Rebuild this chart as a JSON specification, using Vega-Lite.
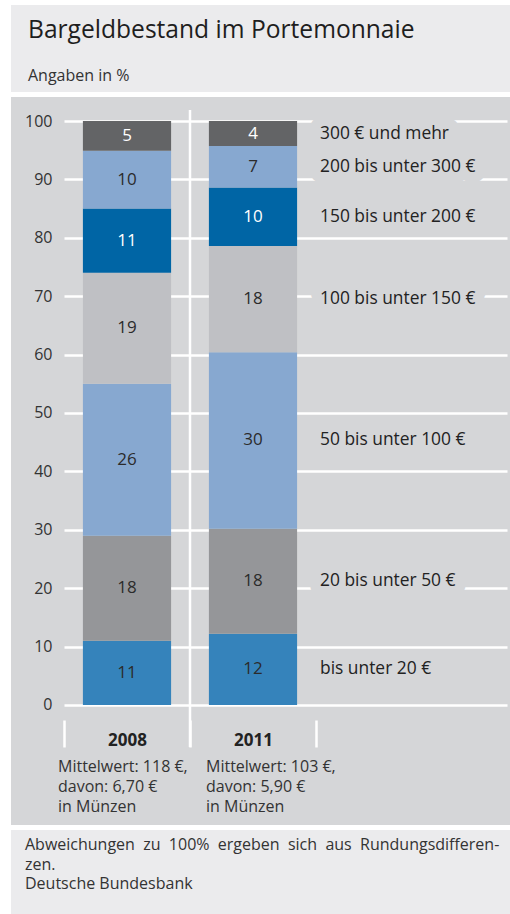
{
  "$schema": "https://vega.github.io/schema/vega-lite/v6.json",
  "background": "white",
  "padding": {"left": 11, "top": 5, "right": 0, "bottom": 0},
  "spacing": 5,
  "config": {
    "font": "Open Sans",
    "axisX": {"offset": -105, "tickBand": "extent", "tickSize": 27, "tickWidth": 2.5, "tickColor": "white", "domain": false, "grid": false, "labelFontSize": 17, "labelFontWeight": "bold", "labelColor": "#222222", "labelPadding": -7, "labelBaseline": "middle", "labelAngle": 0, "title": null}
  },
  "vconcat": [
    {
      "width": 499,
      "height": 87,
      "view": {"fill": "#ebebed", "stroke": null},
      "title": {"text": "Bargeldbestand im Portemonnaie", "subtitle": "Angaben in %", "anchor": "start", "frame": "group", "offset": -80, "dx": 17, "fontSize": 24.6, "fontWeight": "normal", "color": "#1e1e1e", "subtitleFontSize": 16, "subtitleColor": "#333333", "subtitlePadding": 24},
      "data": {"values": []},
      "mark": "text",
      "encoding": {}
    },
    {
      "width": 499,
      "height": 728,
      "view": {"fill": "#d5d6d8", "stroke": null},
      "data": {"values": [
        {"year": "2008", "cat": "bis unter 20 €", "order": 1, "value": 11.0},
        {"year": "2008", "cat": "20 bis unter 50 €", "order": 2, "value": 18.0},
        {"year": "2008", "cat": "50 bis unter 100 €", "order": 3, "value": 26.0},
        {"year": "2008", "cat": "100 bis unter 150 €", "order": 4, "value": 19.0},
        {"year": "2008", "cat": "150 bis unter 200 €", "order": 5, "value": 11.0},
        {"year": "2008", "cat": "200 bis unter 300 €", "order": 6, "value": 9.9},
        {"year": "2008", "cat": "300 € und mehr", "order": 7, "value": 5.1},
        {"year": "2011", "cat": "bis unter 20 €", "order": 1, "value": 12.2},
        {"year": "2011", "cat": "20 bis unter 50 €", "order": 2, "value": 18.0},
        {"year": "2011", "cat": "50 bis unter 100 €", "order": 3, "value": 30.2},
        {"year": "2011", "cat": "100 bis unter 150 €", "order": 4, "value": 18.2},
        {"year": "2011", "cat": "150 bis unter 200 €", "order": 5, "value": 10.0},
        {"year": "2011", "cat": "200 bis unter 300 €", "order": 6, "value": 7.1},
        {"year": "2011", "cat": "300 € und mehr", "order": 7, "value": 4.3}
      ]},
      "transform": [
        {"stack": "value", "groupby": ["year"], "sort": [{"field": "order", "order": "ascending"}], "as": ["y0", "y1"]},
        {"calculate": "(datum.y0 + datum.y1) / 2", "as": "mid"}
      ],
      "layer": [
        {
          "mark": {"type": "bar", "width": {"band": 0.7}},
          "encoding": {
            "x": {"field": "year", "type": "nominal", "title": null, "scale": {"domain": ["2008", "2011"], "range": [53, 305], "paddingInner": 0, "paddingOuter": 0}},
            "y": {"field": "y0", "type": "quantitative", "title": null, "scale": {"domain": [-20.55, 104.11], "nice": false, "zero": false},
              "axis": {"orient": "left", "values": [0, 10, 20, 30, 40, 50, 60, 70, 80, 90, 100], "offset": -53, "labelPadding": 12, "ticks": false, "domain": false, "grid": false, "labelFontSize": 16, "labelColor": "#333333", "title": null}},
            "y2": {"field": "y1"},
            "color": {"field": "cat", "type": "nominal", "legend": null,
              "scale": {"domain": ["bis unter 20 €", "20 bis unter 50 €", "50 bis unter 100 €", "100 bis unter 150 €", "150 bis unter 200 €", "200 bis unter 300 €", "300 € und mehr"],
                "range": ["#3583bb", "#959699", "#87a8d0", "#bfc0c4", "#0065a5", "#87a8d0", "#636466"]}}
          }
        },
        {
          "mark": {"type": "text", "fontSize": 17, "baseline": "middle", "align": "center"},
          "encoding": {
            "x": {"field": "year", "type": "nominal", "title": null},
            "y": {"field": "mid", "type": "quantitative", "title": null,
              "axis": {"orient": "right", "values": [0, 10, 20, 30, 40, 50, 60, 70, 80, 90, 100], "offset": -446, "tickSize": 443, "tickWidth": 2.5, "tickColor": "white", "labels": false, "domain": false, "grid": false, "title": null}},
            "text": {"field": "value", "type": "quantitative", "format": ".0f"},
            "color": {"condition": {"test": "datum.cat === '300 € und mehr' || datum.cat === '150 bis unter 200 €'", "value": "white"}, "value": "#2b2b2b"}
          }
        },
        {
          "transform": [{"filter": "datum.year === '2011'"}],
          "mark": {"type": "text", "fontSize": 17.4, "baseline": "middle", "align": "left", "dx": 4, "fill": "#d5d6d8", "stroke": "#d5d6d8", "strokeWidth": 21, "strokeJoin": "round"},
          "encoding": {
            "x": {"field": "year", "type": "nominal", "title": null, "bandPosition": 1},
            "y": {"field": "mid", "type": "quantitative", "axis": null},
            "text": {"field": "cat"}
          }
        },
        {
          "transform": [{"filter": "datum.year === '2011'"}],
          "mark": {"type": "text", "fontSize": 17.4, "baseline": "middle", "align": "left", "dx": 4, "color": "#222222"},
          "encoding": {
            "x": {"field": "year", "type": "nominal", "title": null, "bandPosition": 1},
            "y": {"field": "mid", "type": "quantitative", "axis": null},
            "text": {"field": "cat"}
          }
        },
        {
          "data": {"values": [{}]},
          "mark": {"type": "rule", "color": "white", "strokeWidth": 2.5},
          "encoding": {
            "x": {"datum": "2011", "type": "nominal", "title": null, "bandPosition": 0},
            "y": {"datum": 101.9, "type": "quantitative", "axis": null},
            "y2": {"datum": -7.2}
          }
        },
        {
          "data": {"values": [{"year": "2008", "note": ["Mittelwert: 118 €,", "davon: 6,70 €", "in Münzen"]}]},
          "mark": {"type": "text", "fontSize": 16, "lineHeight": 20, "baseline": "top", "align": "left", "dx": -6, "color": "#333333"},
          "encoding": {
            "x": {"field": "year", "type": "nominal", "title": null, "bandPosition": 0},
            "y": {"datum": -9.3, "type": "quantitative", "axis": null},
            "text": {"field": "note"}
          }
        },
        {
          "data": {"values": [{"year": "2011", "note": ["Mittelwert: 103 €,", "davon: 5,90 €", "in Münzen"]}]},
          "mark": {"type": "text", "fontSize": 16, "lineHeight": 20, "baseline": "top", "align": "left", "dx": 16, "color": "#333333"},
          "encoding": {
            "x": {"field": "year", "type": "nominal", "title": null, "bandPosition": 0},
            "y": {"datum": -9.3, "type": "quantitative", "axis": null},
            "text": {"field": "note"}
          }
        }
      ],
      "resolve": {"axis": {"y": "independent"}}
    },
    {
      "width": 499,
      "height": 84,
      "view": {"fill": "#ebebed", "stroke": null},
      "title": {"text": ["Abweichungen \u00a0zu \u00a0100% \u00a0ergeben \u00a0sich \u00a0aus \u00a0Rundungsdifferen-", "zen.", "Deutsche Bundesbank"], "anchor": "start", "frame": "group", "offset": -62, "dx": 14, "fontSize": 16, "fontWeight": "normal", "lineHeight": 19.5, "color": "#333333"},
      "data": {"values": []},
      "mark": "text",
      "encoding": {}
    }
  ]
}
